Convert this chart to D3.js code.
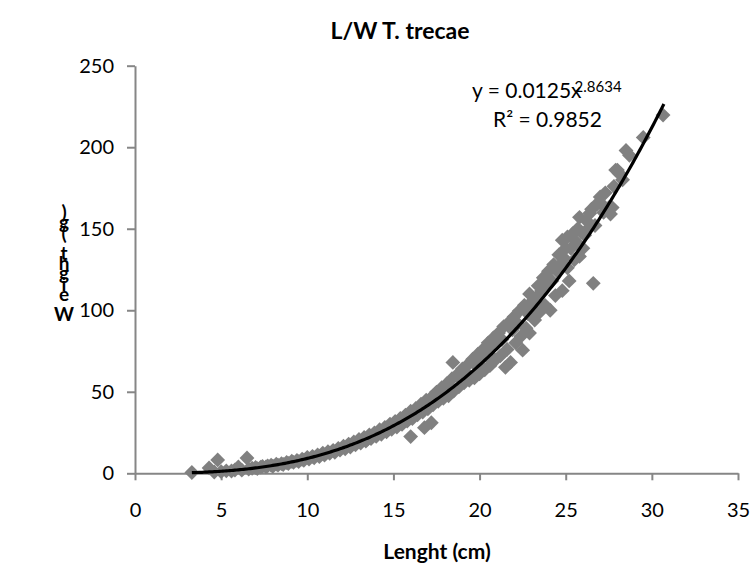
<!DOCTYPE html>
<html><head><meta charset="utf-8">
<script src="https://cdn.jsdelivr.net/npm/d3@7"></script>
<style>html,body{margin:0;padding:0;background:#fff;}svg{display:block;font-family:Lato,"Open Sans",sans-serif;}</style>
</head><body>
<svg id="c" width="752" height="586"></svg>
<script>
const title = "L/W T. trecae";
const xTitle = "Lenght (cm)";
const yTitleChars = ["W","e","i","g","h","t"," ","(","g",")"];
const xTicks = [0,5,10,15,20,25,30,35];
const yTicks = [0,50,100,150,200,250];
const trendCoef = 0.0125, trendExp = 2.8634, trendR2 = 0.9852;
const trendRange = [3.3, 30.7];
// Length (cm)
const lengthCm = [3.3,4.3,4.6,4.8,5.0,5.3,5.6,5.8,6.0,6.2,6.5,6.6,
6.8,7.0,7.1,7.3,7.4,7.6,7.7,7.9,8.0,8.2,8.3,8.5,8.6,8.8,8.9,9.1,9.2,9.4,9.5,9.7,9.8,
10.0,10.1,10.3,10.4,10.6,10.7,10.9,11.0,11.2,11.3,11.5,11.6,11.8,11.9,12.1,12.2,12.4,12.5,12.7,12.8,
13.0,13.1,13.3,13.4,13.6,13.7,13.9,14.0,14.2,14.3,14.5,14.6,14.8,14.9,15.1,15.2,15.4,15.5,15.7,15.8,
16.0,16.0,16.1,16.3,16.4,16.6,16.7,16.8,16.9,17.0,17.2,17.2,17.3,17.5,17.6,17.8,17.9,18.1,18.2,18.4,18.45,18.5,
18.7,18.8,19.0,19.1,19.3,19.4,19.6,19.7,19.9,20.0,20.2,20.3,20.5,20.6,20.8,20.9,21.1,21.2,21.4,21.5,21.6,21.7,21.8,
22.0,22.1,22.3,22.4,22.5,22.6,22.7,22.9,22.9,23.1,23.2,23.4,23.5,23.7,23.8,24.0,24.1,24.3,24.4,24.6,24.8,24.8,
25.0,25.1,25.1,25.2,25.4,25.5,25.8,25.8,25.9,26.0,26.2,26.4,26.6,26.7,27.0,27.2,27.5,27.6,27.7,27.9,28.0,28.3,28.5,28.7,29.5,30.65,
19.2,19.8,20.1,20.4,20.7,21.0,21.3,21.9,22.2,22.8,23.0,23.3,23.6,23.9,24.2,24.5,24.7,24.9,25.3,25.6,25.7,26.1,26.3,26.5,26.8,27.1,27.3,27.8,28.1,
13.5,14.1,15.0,15.6,16.2,17.1,17.7,18.3,18.9];
// Weight (g)
const weightG = [0.5,3.3,0.8,8.2,1.0,1.5,1.4,2.0,3.9,1.9,9.4,2.6,
3.1,3.6,2.9,3.8,4.2,3.9,4.6,5.0,4.3,5.6,5.0,5.9,5.4,6.6,6.0,7.4,6.7,7.9,7.2,8.6,8.0,
9.8,8.7,10.4,9.5,11.3,10.2,12.4,11.1,13.2,12.3,14.1,12.9,15.3,14.2,16.6,15.0,17.9,16.1,19.2,17.5,
20.8,18.6,22.0,19.7,23.5,21.3,24.8,22.6,26.7,23.9,28.1,25.4,30.2,27.0,31.8,28.3,33.6,30.0,35.7,32.0,
38.1,22.5,33.5,39.8,35.9,42.4,37.6,28.0,44.8,39.5,46.5,31.0,42.0,49.8,44.2,52.5,46.0,55.0,47.5,58.0,68.0,50.5,
60.5,53.0,64.0,55.5,66.5,57.0,70.0,58.5,73.0,61.0,76.0,63.5,80.0,66.0,83.0,69.5,86.0,72.0,90.0,65.0,76.0,92.5,68.0,
96.0,80.0,99.5,84.0,75.5,103.0,89.0,110.0,86.0,106.0,94.0,115.0,99.0,120.0,103.0,124.0,100.0,128.0,109.0,134.0,112.0,143.0,
138.0,126.0,145.0,118.0,147.0,131.0,133.0,157.0,148.0,138.0,155.0,159.5,116.5,152.0,169.5,160.0,163.0,159.0,163.0,186.0,186.0,180.0,198.0,195.0,206.0,219.7,
62.0,66.0,70.0,72.0,77.0,80.0,82.0,88.0,92.0,98.0,102.0,108.0,112.0,116.0,118.0,124.0,128.0,132.0,138.0,142.0,150.0,146.0,150.0,162.0,165.0,165.0,172.0,176.0,184.0,
21.0,24.5,29.5,33.0,36.5,41.0,47.0,51.0,58.0];

const svg = d3.select("#c");
const x = d3.scaleLinear().domain([0,35]).range([135,738]);
const y = d3.scaleLinear().domain([0,250]).range([473.3,65.7]);
const axisColor = "#868686";

const gx = svg.append("g").attr("transform",`translate(0,${y(0)})`)
  .call(d3.axisBottom(x).tickValues(xTicks).tickSize(7).tickSizeOuter(0).tickPadding(23));
const gy = svg.append("g").attr("transform",`translate(${x(0)},0)`)
  .call(d3.axisLeft(y).tickValues(yTicks).tickSize(8).tickSizeOuter(0).tickPadding(13));
[gx,gy].forEach(g=>{
  g.select(".domain").attr("stroke",axisColor).attr("stroke-width",2);
  g.selectAll(".tick line").attr("stroke",axisColor).attr("stroke-width",2);
  g.selectAll(".tick text").attr("fill","#000").style("font-size","20px").style("font-family","Lato");
});

const pts = lengthCm.map((l,i)=>({l, w: weightG[i]}));
const sym = d3.symbol().type(d3.symbolSquare).size(110);
svg.append("g").selectAll("path").data(pts).join("path")
  .attr("d", sym)
  .attr("transform", d=>`translate(${x(d.l)},${y(d.w)}) rotate(45)`)
  .attr("fill","#808080");

const tx = d3.range(trendRange[0], trendRange[1]+0.001, 0.1);
svg.append("path").datum(tx)
  .attr("d", d3.line().x(v=>x(v)).y(v=>y(trendCoef*Math.pow(v,trendExp))))
  .attr("fill","none").attr("stroke","#000").attr("stroke-width",3.2);

svg.append("text").attr("x",400).attr("y",39).attr("text-anchor","middle")
  .style("font-weight","bold").style("font-size","23px").text(title);
svg.append("text").attr("x",437).attr("y",559).attr("text-anchor","middle")
  .style("font-weight","bold").style("font-size","21px").text(xTitle);

const yt = svg.append("g").style("font-weight","bold").style("font-size","19px");
const baseY = 321, step = 10.2;
yTitleChars.forEach((ch,i)=>{
  yt.append("text").attr("x",64).attr("y",baseY - i*step - (i>0?10:0)).attr("text-anchor","middle").text(ch);
});

const eq = svg.append("text").attr("x",472).attr("y",98).style("font-size","21px");
eq.append("tspan").text(`y = ${trendCoef}x`);
eq.append("tspan").attr("dy",-6).attr("dx",-7).style("font-size","15px").text(trendExp);
svg.append("text").attr("x",493).attr("y",127).style("font-size","21px").text(`R² = ${trendR2}`);
</script>
</body></html>
